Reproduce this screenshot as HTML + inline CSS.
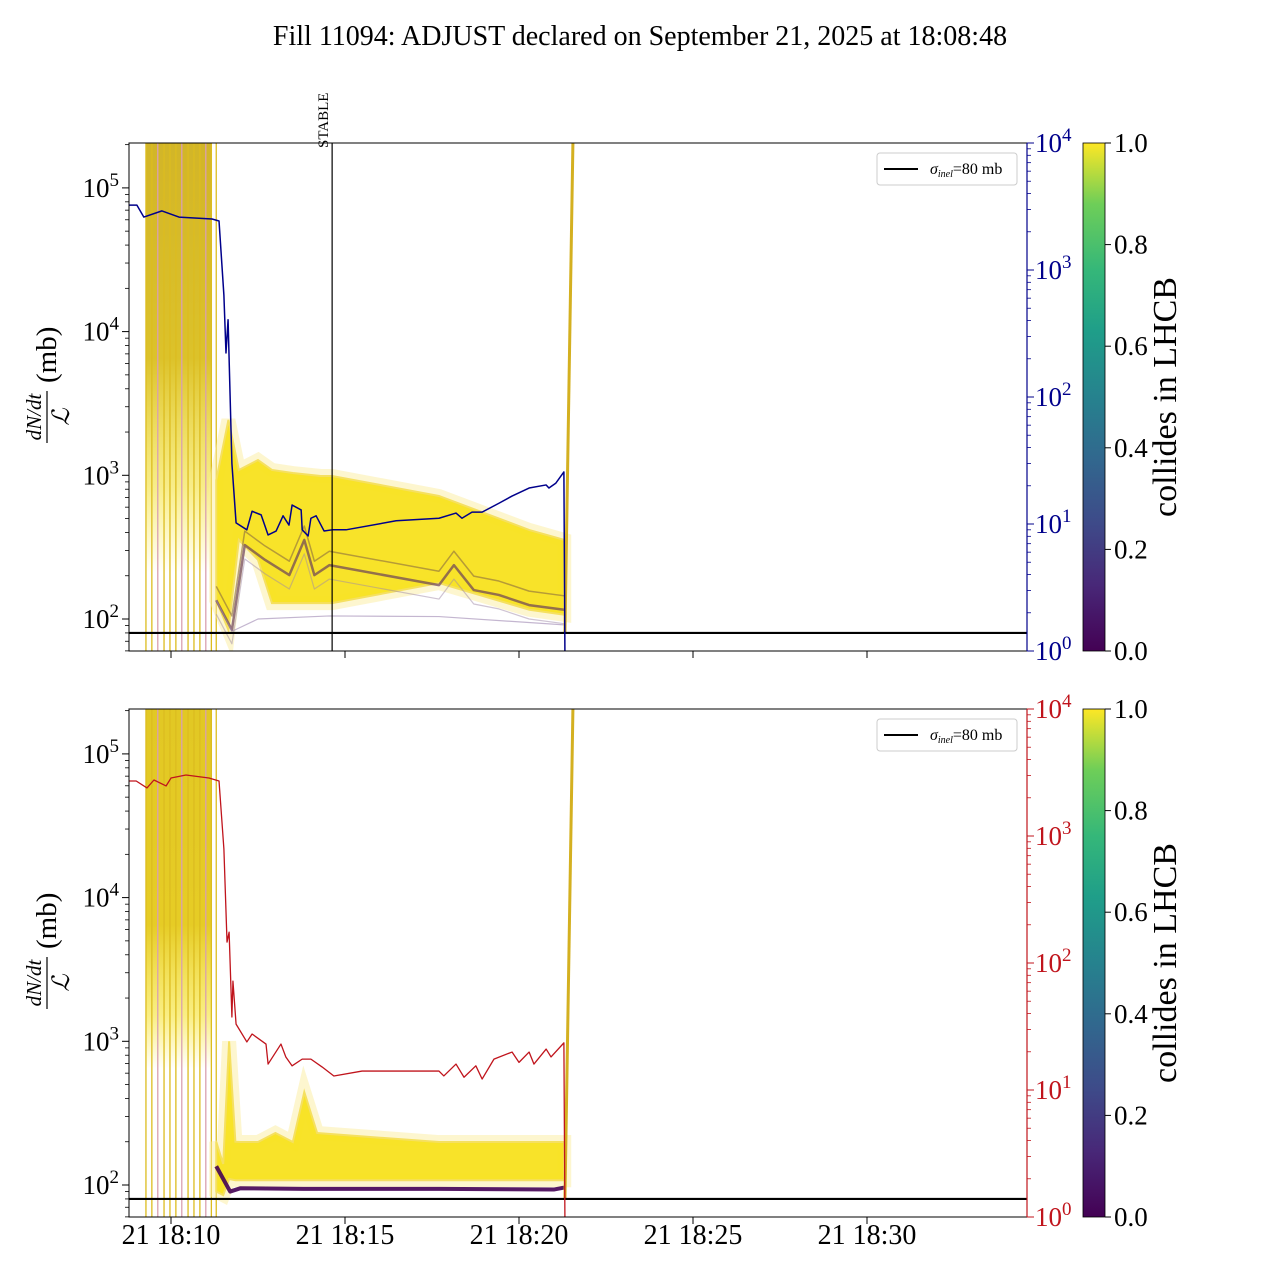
<!DOCTYPE html>
<html><head><meta charset="utf-8"><style>
body{margin:0;background:#fff;}
svg text{font-family:"Liberation Serif","DejaVu Serif",serif;}
</style></head><body>
<svg id="c" width="1280" height="1280" viewBox="0 0 1280 1280" xmlns="http://www.w3.org/2000/svg">
<defs>
<linearGradient id="vir" x1="0" y1="1" x2="0" y2="0">
<stop offset="0" stop-color="#440154"/><stop offset="0.13" stop-color="#482878"/><stop offset="0.25" stop-color="#3e4a89"/><stop offset="0.38" stop-color="#31688e"/><stop offset="0.5" stop-color="#26828e"/><stop offset="0.63" stop-color="#1f9e89"/><stop offset="0.75" stop-color="#35b779"/><stop offset="0.88" stop-color="#6ece58"/><stop offset="1" stop-color="#fde725"/>
</linearGradient>
<linearGradient id="blkTop" x1="0" y1="0" x2="0" y2="1">
<stop offset="0" stop-color="#d2b528"/><stop offset="0.5" stop-color="#dcc22a"/><stop offset="0.8" stop-color="#f3e13a" stop-opacity="0.6"/><stop offset="1" stop-color="#fde725" stop-opacity="0"/>
</linearGradient>
<linearGradient id="blkBot" x1="0" y1="0" x2="0" y2="1">
<stop offset="0" stop-color="#e2c824"/><stop offset="0.6" stop-color="#e6cc25"/><stop offset="0.85" stop-color="#f6e330" stop-opacity="0.6"/><stop offset="1" stop-color="#fde725" stop-opacity="0"/>
</linearGradient>
<clipPath id="cp1"><rect x="129" y="143" width="898" height="508"/></clipPath>
<clipPath id="cp2"><rect x="129" y="709" width="898" height="508"/></clipPath>
</defs>
<text x="640" y="45" text-anchor="middle" font-size="28">Fill 11094: ADJUST declared on September 21, 2025 at 18:08:48</text>
<g id="g1"></g><g id="g2"></g>
</svg>
<script>
// ---- data (time in minutes after 18:00) ----
const xTickTimes = [10, 15, 20, 25, 30];
const xTickLabels = ["21 18:10", "21 18:15", "21 18:20", "21 18:25", "21 18:30"];
const leftTickExps = [2, 3, 4, 5];
const rightTickExps = [0, 1, 2, 3, 4];
const sigmaInel = 80;
const stableTime = 14.63;
const injectTimes = [9.28, 9.45, 9.62, 9.8, 9.97, 10.14, 10.31, 10.49, 10.66, 10.83, 11.0, 11.16, 11.3];
const blueT = [8.79,9.02,9.22,9.74,10.23,11.18,11.38,11.52,11.58,11.64,11.75,11.87,12.18,12.33,12.59,12.79,13.02,13.22,13.39,13.48,13.74,13.77,13.94,14.02,14.17,14.40,14.63,15.03,16.47,17.70,18.19,18.36,18.65,18.94,19.43,19.80,20.29,20.78,20.86,21.06,21.29,21.32];
const blueV = [3240,3240,2610,2920,2610,2520,2430,633,222,406,30,10.2,9.0,12.6,11.8,8.2,8.8,11.6,9.8,14.1,12.9,9.0,8.05,11.1,11.6,8.8,9.0,9.0,10.6,11.1,12.2,11.1,12.4,12.4,14.6,16.6,19.2,20.3,19.2,21,25.7,0.9];
const redT = [8.79,9.0,9.31,9.51,9.86,10.0,10.43,11.09,11.38,11.52,11.61,11.67,11.75,11.78,11.87,12.18,12.33,12.73,12.79,13.16,13.30,13.48,13.77,14.02,14.34,14.68,15.49,17.70,17.84,18.19,18.42,18.76,18.94,19.28,19.80,20.0,20.29,20.43,20.78,20.92,21.29,21.32];
const redV = [2710,2710,2390,2760,2480,2860,3020,2860,2710,790,146,175,37.6,72,33,23.9,27.6,23,16,23,18.2,15.5,17.5,17.5,15.2,12.9,14.1,14.1,12.9,16,12.6,15.5,12.2,17.5,19.9,16.5,19.9,16,21,18.2,23.5,0.9];
const bandT1 = [11.3,11.65,11.95,12.5,12.9,13.5,14.3,14.63,17.7,20.3,21.3];
const bandHi1 = [927,2430,1089,1277,1089,1037,989,989,718,416,355];
const bandLo1 = [135,84,355,258,129,129,129,129,178,116,107];
const purpT1 = [11.3,11.75,12.12,12.7,13.4,13.83,14.12,14.55,17.7,18.13,18.7,19.42,20.29,21.3];
const purpMid1 = [135,84,327,258,202,355,202,237,172,237,159,147,125,116];
const purpLowT1 = [11.3,11.75,12.5,14.55,17.7,21.3];
const purpLow1 = [135,82,100,105,104,91];
const bandT2 = [11.3,11.5,11.67,11.85,12.0,12.5,13.0,13.5,13.83,14.2,17.7,20.3,21.3];
const bandHi2 = [200,140,1000,200,199,199,230,199,443,230,199,199,199];
const bandLo2 = [90,85,110,108,108,108,108,108,108,108,108,108,108];
const purpT2 = [11.3,11.7,12.0,13.8,17.7,21.0,21.3];
const purpV2 = [135,90,95,94,94,93,96];
const rampT = [21.32, 21.55];
const rampV = [80, 210000];

const NS='http://www.w3.org/2000/svg';
const svg=document.getElementById('c');
function el(tag,attrs,parent){const e=document.createElementNS(NS,tag);for(const k in attrs)e.setAttribute(k,attrs[k]);(parent||svg).appendChild(e);return e;}
const X0=129,X1=1027;
function xS(t){return 171+(t-10)*34.8;}

function panel(g,top,which){
  const bot=top+508;
  const y2=top+476; // 10^2
  const yL=v=>y2-(Math.log10(v)-2)*143.7;
  const yR=v=>bot-Math.log10(v)*127;
  const clip=el('g',{'clip-path':which==1?'url(#cp1)':'url(#cp2)'},g);
  const bx=xS(injectTimes[0]);
  const blk=el('rect',{x:bx,y:top,width:xS(injectTimes[injectTimes.length-2])-bx,height:which==1?430:360,fill:which==1?'url(#blkTop)':'url(#blkBot)'},clip);
  
  
  injectTimes.forEach((t,i)=>{
    const l=el('line',{x1:xS(t),x2:xS(t),y1:top,y2:bot,stroke:i%4==2?'#d9a0b0':'#dcbc20','stroke-width':1.3},clip);
    
    
  });
  const T=which==1?bandT1:bandT2, H=which==1?bandHi1:bandHi2, L=which==1?bandLo1:bandLo2;
  let d='M'+T.map((t,i)=>xS(t)+','+yL(H[i])).join(' L')+' L'+T.slice().reverse().map((t,i)=>xS(t)+','+yL(L[L.length-1-i])).join(' L')+'Z';
  const fringe=el('path',{d:d,fill:'none',stroke:'#fbeea0','stroke-width':14,'stroke-opacity':0.5},clip);
  
  
  const band=el('path',{d:d,fill:'#f8e21e','fill-opacity':0.95,stroke:'#f5e060','stroke-width':2},clip);
  
  
  function pl(ts,vs,color,w,name,op){
    const p=el('polyline',{points:ts.map((t,i)=>xS(t)+','+(name.startsWith('lumi')?yR(vs[i]):yL(vs[i]))).join(' '),fill:'none',stroke:color,'stroke-width':w,'stroke-opacity':op||1,'stroke-linejoin':'round'},clip);
    
    
  }
  if(which==1){
    pl(purpT1,purpMid1,'#6a3f5a',2.5,'bunch-median-line',0.7);
    pl(purpT1,purpMid1.map(v=>v*1.25),'#8a6a40',1.5,'bunch-upper-line',0.6);
    pl(purpT1,purpMid1.map(v=>v*0.8),'#a08aa8',1.2,'bunch-lower-line',0.5);
    pl(purpLowT1,purpLow1,'#9d85b0',1.2,'bunch-low-line',0.6);
  } else {
    pl(purpT2,purpV2,'#440154',4,'noncolliding-bunch-line',0.9);
  }
  pl(rampT,rampV,'#d4b020',3,'end-ramp-line');
  const sig=el('line',{x1:X0,x2:X1,y1:yL(sigmaInel),y2:yL(sigmaInel),stroke:'#000','stroke-width':2.2},clip);
  
  
  if(which==1) pl(blueT,blueV,'#00008b',1.5,'lumi-line-blue');
  else pl(redT,redV,'#c0141c',1.3,'lumi-line-red');
  if(which==1){
    const s=el('line',{x1:xS(stableTime),x2:xS(stableTime),y1:top,y2:bot,stroke:'#000','stroke-width':1.2},g);
    
    
    const st=el('text',{x:0,y:0,'font-size':15,transform:`translate(${xS(stableTime)-4},148) rotate(-90)`},g);
    st.textContent='STABLE';
    
    
  }
  const fr=el('rect',{x:X0,y:top,width:X1-X0,height:508,fill:'none',stroke:'#000','stroke-width':1},g);
  
  
  const rc=which==1?'#00008b':'#c0141c';
  el('line',{x1:X1,x2:X1,y1:top,y2:bot,stroke:rc,'stroke-width':1.2},g);
  leftTickExps.forEach(e=>{
    const y=yL(Math.pow(10,e));
    el('line',{x1:X0-7,x2:X0,y1:y,y2:y,stroke:'#000'},g);
    const t=el('text',{x:X0-10,y:y+9,'text-anchor':'end','font-size':27},g);
    t.innerHTML=`10<tspan dy="-11" font-size="19">${e}</tspan>`;
    
    
  });
  for(let e=1;e<6;e++)for(let m=2;m<10;m++){const y=yL(m*Math.pow(10,e));if(y>top&&y<bot)el('line',{x1:X0-4,x2:X0,y1:y,y2:y,stroke:'#000','stroke-width':0.8},g);}
  rightTickExps.forEach(e=>{
    const y=yR(Math.pow(10,e));
    el('line',{x1:X1,x2:X1+7,y1:y,y2:y,stroke:rc},g);
    const t=el('text',{x:X1+8,y:y+9,'font-size':27,fill:rc},g);
    t.innerHTML=`10<tspan dy="-11" font-size="19">${e}</tspan>`;
    
    
  });
  for(let e=0;e<4;e++)for(let m=2;m<10;m++){const y=yR(m*Math.pow(10,e));el('line',{x1:X1,x2:X1+4,y1:y,y2:y,stroke:rc,'stroke-width':0.8},g);}
  xTickTimes.forEach((t,i)=>{
    el('line',{x1:xS(t),x2:xS(t),y1:bot,y2:bot+7,stroke:'#000'},g);
    if(which==2){const tx=el('text',{x:xS(t),y:bot+27,'text-anchor':'middle','font-size':28},g);tx.textContent=xTickLabels[i];
      
      }
  });
  const yl=el('g',{transform:`translate(47,${top+254}) rotate(-90)`},g);
  
  
  const a=el('text',{x:-20,y:-6,'font-size':21,'font-style':'italic','text-anchor':'middle'},yl);a.textContent='dN/dt';
  el('line',{x1:-46,x2:6,y1:0,y2:0,stroke:'#000','stroke-width':1.2},yl);
  const b=el('text',{x:-20,y:22,'font-size':24,'font-style':'italic','text-anchor':'middle'},yl);b.textContent='ℒ';
  const c=el('text',{x:14,y:9,'font-size':29},yl);c.textContent='(mb)';
  const lg=el('g',{},g);
  
  
  el('rect',{x:877,y:top+10,width:140,height:32,rx:3,fill:'#fff',stroke:'#ccc'},lg);
  el('line',{x1:884,x2:918,y1:top+26,y2:top+26,stroke:'#000','stroke-width':2},lg);
  const lt=el('text',{x:930,y:top+31,'font-size':16},lg);
  lt.innerHTML='<tspan font-style="italic">σ</tspan><tspan font-style="italic" font-size="10" dy="3">inel</tspan><tspan dy="-3">=80 mb</tspan>';
  const cb=el('rect',{x:1083,y:top,width:22,height:508,fill:'url(#vir)',stroke:'#000','stroke-width':0.8},g);
  
  
  [0,0.2,0.4,0.6,0.8,1.0].forEach(v=>{
    const y=bot-v*508;
    el('line',{x1:1105,x2:1111,y1:y,y2:y,stroke:'#000'},g);
    const t=el('text',{x:1114,y:y+9,'font-size':27},g);t.textContent=v.toFixed(1);
    
    
  });
  const ct=el('text',{x:0,y:0,'font-size':34,'text-anchor':'middle',transform:`translate(1176,${top+254}) rotate(-90)`},g);
  ct.textContent='collides in LHCB';
  
  
}
const g1=document.getElementById('g1');
const g2=document.getElementById('g2');
panel(g1,143,1);
panel(g2,709,2);
</script>
</body></html>
